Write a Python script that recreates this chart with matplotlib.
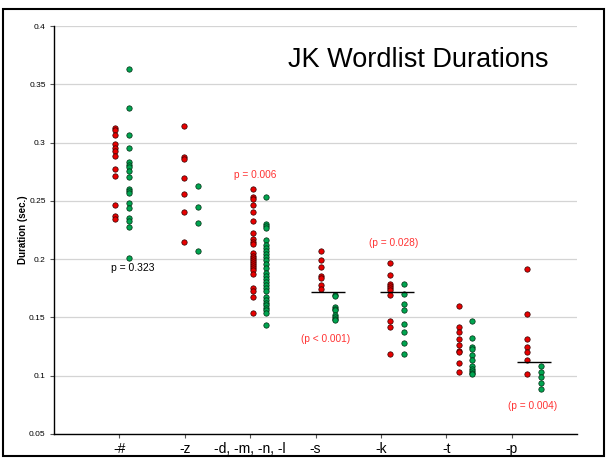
import matplotlib
matplotlib.use("Agg")
import matplotlib.pyplot as plt
from matplotlib.patches import Rectangle
import numpy as np

plt.rcParams['font.family'] = ['Liberation Sans', 'DejaVu Sans']

categories = ['-#', '-z', '-d, -m, -n, -l', '-s', '-k', '-t', '-p']

red_hash = [0.3123, 0.3109, 0.3069, 0.2991, 0.2951, 0.2931, 0.2885, 0.2776, 0.2713, 0.2467, 0.2372, 0.2347]
green_hash = [0.3628, 0.3298, 0.3069, 0.2957, 0.2837, 0.2808, 0.2788, 0.2759, 0.2705, 0.2602, 0.2587,
              0.2570, 0.2478, 0.2436, 0.2350, 0.2327, 0.2275, 0.2006]
red_z = [0.3140, 0.2880, 0.2857, 0.2700, 0.2563, 0.2403, 0.2143]
green_z = [0.2631, 0.2451, 0.2311, 0.2074]
red_d = [0.2603, 0.2529, 0.2517, 0.2463, 0.2403, 0.2331, 0.2223, 0.2169, 0.2146, 0.2129, 0.2049, 0.2031,
         0.2011, 0.1994, 0.1974, 0.1957, 0.1940, 0.1923, 0.1906, 0.1871, 0.1754, 0.1731, 0.1671, 0.1534]
green_d = [0.2529, 0.2303, 0.2283, 0.2266, 0.2163, 0.2123, 0.2094, 0.2066, 0.2040, 0.2020, 0.1994, 0.1960,
           0.1926, 0.1877, 0.1854, 0.1829, 0.1803, 0.1774, 0.1751, 0.1729, 0.1671, 0.1651, 0.1626, 0.1603,
           0.1583, 0.1563, 0.1540, 0.1431]
red_s = [0.2072, 0.1994, 0.1931, 0.1854, 0.1840, 0.1782, 0.1748]
green_s = [0.1696, 0.1685, 0.1593, 0.1576, 0.1562, 0.1524, 0.1507, 0.1487, 0.1476]
red_k = [0.1971, 0.1862, 0.1785, 0.1768, 0.1751, 0.1734, 0.1691, 0.1470, 0.1418, 0.1189]
green_k = [0.1785, 0.1702, 0.1616, 0.1562, 0.1441, 0.1372, 0.1281, 0.1189]
red_t = [0.1594, 0.1417, 0.1374, 0.1311, 0.1263, 0.1214, 0.1203, 0.1106, 0.1031]
green_t = [0.1466, 0.1323, 0.1243, 0.1231, 0.1174, 0.1134, 0.1083, 0.1060, 0.1043, 0.1026, 0.1014]
red_p = [0.1914, 0.1526, 0.1311, 0.1246, 0.1203, 0.1134, 0.1011]
green_p = [0.1083, 0.1034, 0.0991, 0.0934, 0.0886]

red_series = [red_hash, red_z, red_d, red_s, red_k, red_t, red_p]
green_series = [green_hash, green_z, green_d, green_s, green_k, green_t, green_p]

# mean lines (category index, value)
mean_cats = [3, 4, 6]
mean_vals = [0.1722, 0.1722, 0.1117]

# p-value annotations
p_texts = ['p = 0.323', 'p = 0.006', '(p < 0.001)', '(p = 0.028)', '(p = 0.004)']
p_colors = ['black', '#ff3333', '#ff3333', '#ff3333', '#ff3333']
p_sizes = [7.5, 7.3, 7.3, 7.3, 7.3]
p_x = [1.20, 3.07, 4.16, 5.19, 7.32]
p_y = [0.1924, 0.2722, 0.1317, 0.2136, 0.0740]

yticks = [0.05, 0.1, 0.15, 0.2, 0.25, 0.3, 0.35, 0.4]
ytick_labels = ['0.05', '0.1', '0.15', '0.2', '0.25', '0.3', '0.35', '0.4']

fig = plt.figure(figsize=(6.08, 4.59), dpi=100)
ax = fig.add_axes([54/608, 1-434/459, (577-54)/608, (434-26)/459])

red_col = '#e80000'
green_col = '#00a550'

def red_pos(i):
    return 0.94 + 1.05 * i

for i, (rv, gv) in enumerate(zip(red_series, green_series)):
    xr = red_pos(i)
    ax.scatter(np.full(len(rv), xr), rv, s=15, c=red_col, edgecolors='#300000', linewidths=0.5, zorder=3)
    ax.scatter(np.full(len(gv), xr + 0.21), gv, s=15, c=green_col, edgecolors='#002a10', linewidths=0.5, zorder=3)

for c, v in zip(mean_cats, mean_vals):
    xc = red_pos(c) + 0.105
    ax.hlines(v, xc - 0.26, xc + 0.26, colors='black', linewidth=1.0, zorder=4)

for t, col, fs, x, y in zip(p_texts, p_colors, p_sizes, p_x, p_y):
    ax.text(x, y, t, color=col, fontsize=fs, ha='center', va='center')

ax.text(5.57, 0.3708, 'JK Wordlist Durations', fontsize=19.5, ha='center', va='center')

ax.set_xlim(0, 8)
ax.set_ylim(0.05, 0.4)
ax.set_xticks(range(1, 8))
ax.set_xticklabels(categories, fontsize=10)
ax.set_yticks(yticks)
ax.set_yticklabels(ytick_labels, fontsize=6)
ax.tick_params(axis='both', direction='out', length=3, width=0.8, color='#555555')
ax.tick_params(axis='x', pad=3)
ax.tick_params(axis='y', pad=3)
ax.grid(axis='y', color='#d4d4d4', linewidth=0.9)
ax.set_axisbelow(True)
for s in ['top', 'right']:
    ax.spines[s].set_visible(False)
ax.spines['left'].set_linewidth(1.0)
ax.spines['bottom'].set_linewidth(1.0)

fig.text(23/608, 1-230/459, 'Duration (sec.)', rotation=90, fontsize=7, fontweight='bold',
         ha='center', va='center')

fig.patches.append(Rectangle((3/608, 3/459), 601/608, 447/459, transform=fig.transFigure,
                             fill=False, edgecolor='black', linewidth=1.5))

fig.savefig('out.png', dpi=100)
